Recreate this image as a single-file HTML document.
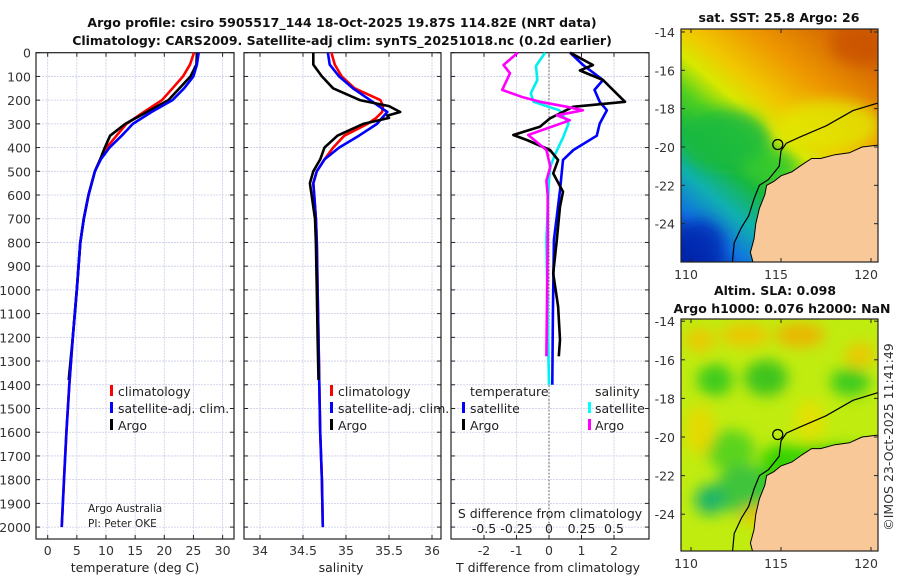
<!DOCTYPE html>
<html><head><meta charset="utf-8"><style>
html,body{margin:0;padding:0;background:#fff;}
svg{display:block;font-family:"DejaVu Sans","Liberation Sans",sans-serif;}
</style></head><body>
<svg id="c" width="900" height="580" viewBox="0 0 900 580">
<defs>
<linearGradient id="sstg" x1="0.8" y1="0" x2="0.1" y2="1">
<stop offset="0" stop-color="#d46400"/><stop offset="0.22" stop-color="#ee9a00"/>
<stop offset="0.36" stop-color="#f0c800"/><stop offset="0.45" stop-color="#d8e800"/>
<stop offset="0.55" stop-color="#50d020"/><stop offset="0.66" stop-color="#18b840"/>
<stop offset="0.78" stop-color="#10b0b0"/><stop offset="0.9" stop-color="#1070e0"/>
<stop offset="1" stop-color="#0020a0"/>
</linearGradient>
<filter id="blur"><feGaussianBlur stdDeviation="7"/></filter>
<clipPath id="clip1"><rect x="681" y="29" width="197" height="233"/></clipPath>
<clipPath id="clip2"><rect x="681" y="319" width="197" height="232"/></clipPath>
</defs>
<g id="root"></g>
</svg>
<script>
// ---- data ----
var depthsT = [0,50,100,150,200,250,300,350,400,450,500,600,700,800,1000,1200,1400,1600,1800,2000];
var tempClim = [25.1,24.4,23.2,21.4,19.6,16.5,13.5,11.8,10.1,9.0,8.1,7.0,6.2,5.6,5.0,4.3,3.7,3.2,2.8,2.4];
var tempSat  = [25.9,25.6,25.0,23.4,21.4,17.8,14.6,12.7,10.6,9.1,8.1,7.0,6.2,5.6,5.0,4.3,3.7,3.2,2.8,2.4];
var depthsArgo = [0,50,100,150,200,250,300,350,400,450,500,600,700,800,1000,1200,1380];
var tempArgo = [25.6,25.5,24.5,22.6,20.7,17.0,13.3,10.7,9.8,9.0,8.1,7.0,6.2,5.6,5.0,4.3,3.6];
var salDepths = [0,50,100,150,200,225,250,275,300,350,400,450,500,550,600,700,800,1000,1200,1400,1600,1800,2000];
var salClim = [34.83,34.87,34.95,35.1,35.4,35.43,35.42,35.35,35.25,34.98,34.85,34.75,34.66,34.62,34.63,34.65,34.66,34.67,34.68,34.69,34.70,34.72,34.73];
var salSat  = [34.79,34.81,34.92,35.08,35.28,35.38,35.48,35.42,35.36,35.15,34.92,34.75,34.66,34.62,34.63,34.65,34.66,34.67,34.68,34.69,34.70,34.72,34.73];
var argoSalDepths = [0,50,100,150,200,225,250,265,275,300,350,400,450,500,550,600,700,800,1000,1200,1380];
var salArgo = [34.62,34.62,34.72,34.85,35.16,35.5,35.63,35.48,35.5,35.2,34.9,34.75,34.7,34.62,34.58,34.6,34.64,34.65,34.66,34.67,34.68];
var dTdepths = [0,52,75,115,157,207,228,277,312,347,368,410,452,509,586,649,790,930,1070,1210,1280];
var dTargo = [0.65,1.35,0.95,1.66,1.97,2.34,0.74,0.03,-0.28,-1.1,-0.68,0.03,0.28,0.13,0.43,0.34,0.24,0.13,0.28,0.34,0.3];
var dTsatDepths = [0,52,115,157,207,243,299,350,410,452,580,790,1100,1400];
var dTsat = [0.65,1.05,1.66,1.4,1.56,1.78,1.56,1.47,0.75,0.43,0.34,0.15,0.12,0.1];
var dSdepths = [0,52,87,157,188,207,228,243,264,285,347,410,480,540,600,790,1280];
var dSargo = [-0.24,-0.35,-0.3,-0.36,-0.2,-0.07,0.14,0.26,0.06,0.16,-0.16,-0.02,0.01,-0.02,-0.01,-0.01,-0.02];
var dSsatDepths = [0,56,115,171,207,243,299,355,425,480,540,790,1400];
var dSsat = [-0.03,-0.1,-0.09,-0.14,-0.12,0.08,0.15,0.11,0.05,0.01,0.0,-0.02,0.0];
var depthTicks = [0,100,200,300,400,500,600,700,800,900,1000,1100,1200,1300,1400,1500,1600,1700,1800,1900,2000];
var tempTicks = [0,5,10,15,20,25,30];
var salTicks = [34,34.5,35,35.5,36];
var dTTicks = [-2,-1,0,1,2];
var dSTickLabels = ["-0.5","-0.25","0","0.25","0.5"];
var dSTicks = [-0.5,-0.25,0,0.25,0.5];
var latTicks = [-14,-16,-18,-20,-22,-24];
var lonTicks = [110,115,120];

var NS="http://www.w3.org/2000/svg";
var root=document.getElementById('root');
function el(tag,attrs,parent,text){var e=document.createElementNS(NS,tag);for(var k in attrs)e.setAttribute(k,attrs[k]);if(text!==undefined)e.textContent=text;(parent||root).appendChild(e);return e;}

var TOP=52.7,BOT=539,FS=12.5;
function yD(d){return TOP+d*0.2372;}
function xT(t){return 47.7+t*5.83;}
function xS(s){return 260+(s-34)*86;}
function xDT(v){return 549+v*32.5;}
function xDS(v){return 549+v*130;}
var panels=[{x0:36,x1:234,ticks:tempTicks,fx:xT,name:'temperature-panel'},{x0:244,x1:441,ticks:salTicks,fx:xS,name:'salinity-panel'},{x0:451,x1:649,ticks:dTTicks,fx:xDT,name:'difference-panel'}];
panels.forEach(function(p,pi){
  var g=el('g',{});
  
  
  depthTicks.forEach(function(d){
    var l=el('line',{x1:p.x0,x2:p.x1,y1:yD(d),y2:yD(d),stroke:'#c8cce8','stroke-width':0.8,'stroke-dasharray':'2,1'},g);
    
    
    el('line',{x1:p.x0,x2:p.x0+4,y1:yD(d),y2:yD(d),stroke:'#222','stroke-width':1},g);
    el('line',{x1:p.x1,x2:p.x1-4,y1:yD(d),y2:yD(d),stroke:'#222','stroke-width':1},g);
  });
  p.ticks.forEach(function(t){
    var x=p.fx(t);
    var l=el('line',{x1:x,x2:x,y1:TOP,y2:BOT,stroke:'#c8cce8','stroke-width':0.8,'stroke-dasharray':'2,1'},g);
    
    
    el('line',{x1:x,x2:x,y1:BOT,y2:BOT-4,stroke:'#222','stroke-width':1},g);
    el('line',{x1:x,x2:x,y1:TOP,y2:TOP+4,stroke:'#222','stroke-width':1},g);
    var lab=el('text',{x:x,y:555,'font-size':FS,'text-anchor':'middle',fill:'#333'},g,String(t));
    
    
  });
  var fr=el('rect',{x:p.x0,y:TOP,width:p.x1-p.x0,height:BOT-TOP,fill:'none',stroke:'#222','stroke-width':1.2},g);
  
  
});
depthTicks.forEach(function(d){
  var t=el('text',{x:31,y:yD(d)+5,'font-size':FS,'text-anchor':'end',fill:'#333'},root,String(d));
  
  
});
var zl=el('line',{x1:xDT(0),x2:xDT(0),y1:TOP,y2:BOT,stroke:'#555','stroke-width':1,'stroke-dasharray':'1.5,2'});



function line(xs,ds,fx,color,name){
  var pts=xs.map(function(v,i){return fx(v).toFixed(1)+','+yD(ds[i]).toFixed(1);}).join(' ');
  var p=el('polyline',{points:pts,fill:'none',stroke:color,'stroke-width':2.6,'stroke-linejoin':'round'});
  
  
}
line(tempClim,depthsT,xT,'#f00','temp-climatology-line');
line(tempArgo,depthsArgo,xT,'#000','temp-argo-line');
line(tempSat,depthsT,xT,'#0000ff','temp-satellite-line');
line(salClim,salDepths,xS,'#f00','sal-climatology-line');
line(salSat,salDepths,xS,'#0000ff','sal-satellite-line');
line(salArgo,argoSalDepths,xS,'#000','sal-argo-line');
line(dTsat,dTsatDepths,xDT,'#0000ff','tdiff-satellite-line');
line(dSsat,dSsatDepths,xDS,'#00f0f0','sdiff-satellite-line');
line(dTargo,dTdepths,xDT,'#000','tdiff-argo-line');
line(dSargo,dSdepths,xDS,'#ff00ff','sdiff-argo-line');

dSTicks.forEach(function(v,i){
  var t=el('text',{x:xDS(v),y:533,'font-size':FS,'text-anchor':'middle',fill:'#222'},root,dSTickLabels[i]);
  
  
  el('line',{x1:xDS(v),x2:xDS(v),y1:BOT,y2:BOT-4,stroke:'#222'});
});

function txt(x,y,s,size,name,opts){
  var a={x:x,y:y,'font-size':size,fill:'#222'};
  for(var k in (opts||{}))a[k]=opts[k];
  var t=el('text',a,root,s);
  
  
  return t;
}
function mark(x,y,c,name){
  var r=el('rect',{x:x,y:y-11,width:3,height:11,fill:c});
  
  
}
mark(110,396,'#f00','legend-climatology-marker');txt(118,396,'climatology',FS,'legend-climatology');
mark(110,413,'#00f','legend-satellite-marker');txt(118,413,'satellite-adj. clim.',FS,'legend-satellite');
mark(110,430,'#000','legend-argo-marker');txt(118,430,'Argo',FS,'legend-argo');
mark(330,396,'#f00','legend-climatology-marker');txt(338,396,'climatology',FS,'legend-climatology');
mark(330,413,'#00f','legend-satellite-marker');txt(338,413,'satellite-adj. clim.',FS,'legend-satellite');
mark(330,430,'#000','legend-argo-marker');txt(338,430,'Argo',FS,'legend-argo');
txt(470,396,'temperature',FS,'legend-temperature-header');
txt(595,396,'salinity',FS,'legend-salinity-header');
mark(462,413,'#00f','legend-t-satellite-marker');txt(470,413,'satellite',FS,'legend-t-satellite');
mark(462,430,'#000','legend-t-argo-marker');txt(470,430,'Argo',FS,'legend-t-argo');
mark(588,413,'#0ff','legend-s-satellite-marker');txt(595,413,'satellite',FS,'legend-s-satellite');
mark(588,430,'#f0f','legend-s-argo-marker');txt(595,430,'Argo',FS,'legend-s-argo');
txt(88,512,'Argo Australia',10.5,'credit-argo-australia');
txt(88,527,'PI: Peter OKE',10.5,'credit-pi');
txt(550,518,'S difference from climatology',FS,'s-diff-axis-title',{'text-anchor':'middle'});
txt(135,572,'temperature (deg C)',FS,'x-axis-title-temperature',{'text-anchor':'middle'});
txt(341,572,'salinity',FS,'x-axis-title-salinity',{'text-anchor':'middle'});
txt(548,572,'T difference from climatology',FS,'x-axis-title-tdiff',{'text-anchor':'middle'});
txt(342,27,'Argo profile: csiro 5905517_144 18-Oct-2025 19.87S 114.82E (NRT data)',12.5,'title-line-1',{'text-anchor':'middle','font-weight':'bold','fill':'#111'});
txt(342,45,'Climatology: CARS2009. Satellite-adj clim: synTS_20251018.nc (0.2d earlier)',12.5,'title-line-2',{'text-anchor':'middle','font-weight':'bold','fill':'#111'});

function lx(l){return 781+(l-115)*18;}
var maps=[{y0:29,h:233,yc:147,k:19.17,clip:'clip1',name:'sst-map'},{y0:319,h:232,yc:437,k:19.3,clip:'clip2',name:'sla-map'}];
var coast=[[120.4,-19.9],[119.5,-20.0],[118.8,-20.3],[118,-20.4],[117.2,-20.6],[116.7,-20.6],[116.2,-20.9],[115.6,-21.3],[115,-21.5],[114.6,-21.8],[114.2,-22.0],[114.1,-22.5],[113.8,-23.2],[113.6,-24.0],[113.5,-24.8],[113.3,-25.5],[113.5,-26.2],[120.4,-26.2]];
var contour=[[120.4,-17.7],[119,-18.1],[117.5,-18.9],[116,-19.5],[115.3,-19.8],[115,-20.2],[114.9,-21],[114.3,-21.7],[113.8,-22],[113.5,-22.7],[113.2,-23.6],[112.8,-24.2],[112.4,-25],[112.3,-26]];
maps.forEach(function(m,mi){
  function ly(la){return m.yc-(la+20)*m.k;}
  var g=el('g',{'clip-path':'url(#'+m.clip+')'});
  
  
  if(mi===0){
    el('rect',{x:681,y:m.y0,width:197,height:m.h,fill:'url(#sstg)'},g);
    var gb=el('g',{filter:'url(#blur)'},g);
    el('ellipse',{cx:725,cy:140,rx:45,ry:30,fill:'#18b840',opacity:0.85},gb);
    el('ellipse',{cx:700,cy:245,rx:25,ry:25,fill:'#0028b0',opacity:0.8},gb);
    el('ellipse',{cx:860,cy:45,rx:30,ry:20,fill:'#c85000',opacity:0.7},gb);
    el('ellipse',{cx:830,cy:125,rx:50,ry:25,fill:'#e0e800',opacity:0.8},gb);
    el('ellipse',{cx:770,cy:165,rx:25,ry:15,fill:'#30c830',opacity:0.8},gb);
  } else {
    el('rect',{x:681,y:m.y0,width:197,height:m.h,fill:'#c0ec10'},g);
    var gb2=el('g',{filter:'url(#blur)'},g);
    [[745,335,25,12,'#f0c400'],[800,335,25,12,'#f0b000'],[860,355,15,12,'#f0c400'],[700,340,15,12,'#f0c400'],
     [715,380,18,16,'#30c820'],[766,378,22,18,'#30c020'],[850,382,20,14,'#30c820'],
     [730,450,25,20,'#50d020'],[745,490,30,25,'#30c040'],[710,500,15,15,'#10b070'],[760,515,20,10,'#f0c400'],
     [810,420,15,20,'#e8e000'],[700,430,15,25,'#e8d800'],[820,455,60,10,'#30d000'],[780,470,20,25,'#30d000']].forEach(function(b){
      el('ellipse',{cx:b[0],cy:b[1],rx:b[2],ry:b[3],fill:b[4],opacity:0.9},gb2);
    });
  }
  var land=el('polygon',{points:coast.map(function(c){return lx(c[0]).toFixed(1)+','+ly(c[1]).toFixed(1);}).join(' '),fill:'#f9c898',stroke:'#000','stroke-width':1},g);
  
  
  var ct=el('polyline',{points:contour.map(function(c){return lx(c[0]).toFixed(1)+','+ly(c[1]).toFixed(1);}).join(' '),fill:'none',stroke:'#000','stroke-width':1.2},g);
  
  
  var ci=el('circle',{cx:lx(114.82),cy:ly(-19.87),r:5,fill:'none',stroke:'#000','stroke-width':1.3},g);
  
  
  var fr=el('rect',{x:681,y:m.y0,width:197,height:m.h,fill:'none',stroke:'#222','stroke-width':1.2});
  
  
  latTicks.forEach(function(la){
    var y=ly(la);
    el('line',{x1:681,x2:685,y1:y,y2:y,stroke:'#222'});
    el('line',{x1:878,x2:874,y1:y,y2:y,stroke:'#222'});
    txt(675,y+5,String(la),FS,'lat-tick-label',{'text-anchor':'end','fill':'#333'});
  });
  lonTicks.forEach(function(lo){
    var x=lx(lo);
    el('line',{x1:x,x2:x,y1:m.y0+m.h,y2:m.y0+m.h-4,stroke:'#222'});
    el('line',{x1:x,x2:x,y1:m.y0,y2:m.y0+4,stroke:'#222'});
    txt(x-5,m.y0+m.h+17,String(lo),FS,'lon-tick-label',{'text-anchor':'middle','fill':'#333'});
  });
});
txt(779,22,'sat. SST: 25.8 Argo: 26',12.5,'sst-map-title',{'text-anchor':'middle','font-weight':'bold','fill':'#111'});
txt(775,295,'Altim. SLA: 0.098',12.5,'sla-map-title',{'text-anchor':'middle','font-weight':'bold','fill':'#111'});
txt(782,313,'Argo h1000: 0.076 h2000: NaN',12.5,'sla-map-subtitle',{'text-anchor':'middle','font-weight':'bold','fill':'#111'});
txt(0,0,'©IMOS 23-Oct-2025 11:41:49',FS,'copyright-timestamp',{'text-anchor':'middle','fill':'#333','transform':'translate(893,437) rotate(-90)'});
</script>
</body></html>
